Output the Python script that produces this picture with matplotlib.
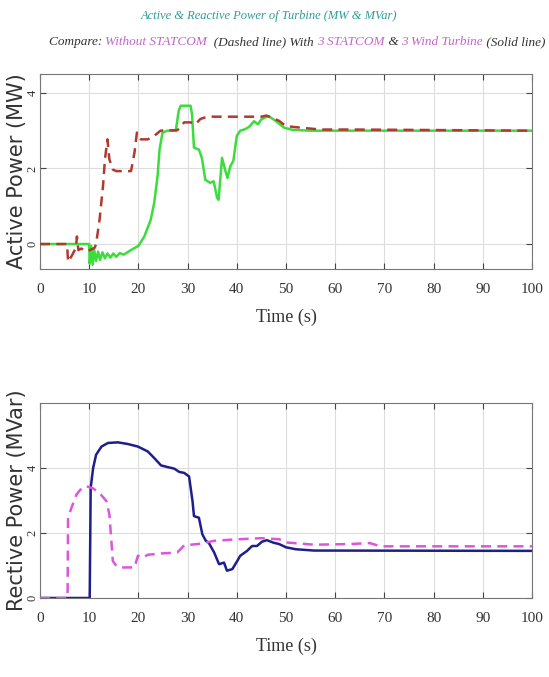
import matplotlib
matplotlib.use("Agg")
import matplotlib.pyplot as plt
from matplotlib.offsetbox import TextArea, HPacker, AnchoredOffsetbox

plt.rcParams["font.family"] = "Liberation Serif"

# Active power, with 3 STATCOM & 3 wind turbine (solid)
t_p_solid = [0, 10.0, 10.1, 10.4, 10.7, 11.0, 11.4, 11.8, 12.2, 12.7, 13.2, 13.7,
             14.3, 14.9, 15.5, 16.2, 17.0, 18.0, 19.0, 20.0, 21.2, 22.5, 23.2,
             23.9, 24.3, 24.9, 25.9, 27.6, 28.2, 28.6, 30.6, 30.9, 31.3, 32.3,
             32.9, 33.6, 34.6, 35.3, 36.0, 36.3, 37.0, 37.7, 38.1, 38.7, 39.3,
             40.0, 40.7, 41.7, 42.5, 43.5, 44.3, 45.0, 46.4, 47.9, 49.6, 51.4,
             55.0, 100]
p_solid = [0, 0, -0.52, -0.05, -0.55, -0.15, -0.45, -0.2, -0.42, -0.22, -0.38,
           -0.25, -0.36, -0.25, -0.34, -0.24, -0.28, -0.2, -0.12, -0.05, 0.2,
           0.64, 1.08, 1.8, 2.5, 2.95, 3.0, 3.0, 3.53, 3.66, 3.66, 3.44, 2.55,
           2.5, 2.28, 1.7, 1.62, 1.66, 1.22, 1.17, 2.28, 1.93, 1.75, 2.06, 2.2,
           2.86, 3.0, 3.04, 3.1, 3.25, 3.17, 3.3, 3.39, 3.26, 3.08, 3.02, 3.0,
           3.0]

# Active power, without STATCOM (dashed)
t_p_dash = [0, 5.5, 5.7, 6.5, 7.3, 7.5, 7.8, 8.4, 9.5, 11.1, 11.4, 12.1, 12.8,
            13.2, 13.7, 14.1, 14.8, 15.5, 18.5, 19.2, 19.7, 20.5, 21.9, 23.2,
            24.5, 25.9, 27.9, 29.3, 30.6, 31.6, 32.6, 34.0, 42.0, 45.0, 46.0,
            48.6, 50.0, 53.0, 57.0, 64.0, 100]
p_dash = [0, 0, -0.47, -0.3, -0.1, 0.2, -0.16, -0.12, -0.2, -0.1, 0.0, 0.64,
          1.53, 2.24, 2.77, 2.24, 1.97, 1.93, 1.93, 2.42, 2.95, 2.77, 2.77,
          2.86, 3.0, 3.01, 3.01, 3.22, 3.22, 3.17, 3.31, 3.37, 3.37, 3.37,
          3.4, 3.26, 3.12, 3.08, 3.03, 3.03, 3.0]

# Reactive power, with 3 STATCOM & 3 wind turbine (solid)
t_q_solid = [0, 10.1, 10.3, 10.8, 11.4, 12.5, 13.8, 15.8, 17.8, 19.9, 21.9,
             23.2, 24.6, 25.9, 27.3, 28.3, 29.3, 30.3, 31.0, 31.3, 32.3, 33.0,
             33.7, 34.3, 35.4, 36.4, 37.4, 38.0, 39.1, 40.1, 40.7, 42.1, 43.1,
             44.1, 45.1, 46.1, 47.5, 48.6, 50.0, 52.0, 55.7, 100]
q_solid = [0, 0, 3.39, 4.0, 4.41, 4.66, 4.77, 4.79, 4.74, 4.66, 4.51, 4.31,
           4.08, 4.03, 3.98, 3.88, 3.85, 3.74, 2.98, 2.52, 2.47, 1.96, 1.76,
           1.7, 1.4, 1.04, 1.09, 0.84, 0.89, 1.14, 1.3, 1.45, 1.6, 1.6, 1.73,
           1.78, 1.7, 1.66, 1.56, 1.5, 1.46, 1.45]

# Reactive power, without STATCOM (dashed)
t_q_dash = [0, 5.6, 5.7, 6.4, 7.4, 8.4, 9.4, 10.8, 12.1, 13.5, 14.1, 14.5,
            14.8, 15.5, 16.5, 19.2, 19.9, 20.9, 21.9, 24.6, 27.9, 29.3, 32.7,
            35.4, 39.4, 44.8, 48.6, 50.0, 55.7, 63.0, 67.0, 69.3, 100]
q_dash = [0, 0, 2.47, 2.78, 3.18, 3.37, 3.44, 3.37, 3.23, 2.98, 2.57, 1.76,
          1.14, 0.99, 0.94, 0.94, 1.3, 1.24, 1.33, 1.37, 1.4, 1.62, 1.67, 1.76,
          1.8, 1.84, 1.81, 1.71, 1.64, 1.66, 1.69, 1.59, 1.59]

x_ticks = [0, 10, 20, 30, 40, 50, 60, 70, 80, 90, 100]
y_ticks = [0, 2, 4]

fig = plt.figure(figsize=(5.49, 6.77), dpi=100)
ax1 = fig.add_axes([0.0729, 0.6027, 0.896, 0.288])
ax2 = fig.add_axes([0.0729, 0.1167, 0.896, 0.288])

ax1.plot(t_p_solid, p_solid, color="#3ddc3d", lw=1.8, zorder=2)
ax1.plot(t_p_dash, p_dash, color="#b03a30", lw=1.8, dashes=(4, 2.5), zorder=3)
ax1.set_ylim(-0.66, 4.5)

ax2.plot(t_q_solid, q_solid, color="#1f1f8c", lw=1.8, zorder=2)
ax2.plot(t_q_dash, q_dash, color="#dd55dd", lw=1.8, dashes=(4, 2.5), zorder=3)
ax2.set_ylim(0, 6)

for ax, lab in [(ax1, "Active Power (MW)"), (ax2, "Rective Power (MVar)")]:
    ax.set_xlim(0, 100)
    ax.set_xticks(x_ticks)
    ax.set_yticks(y_ticks)
    ax.set_yticklabels([str(v) for v in y_ticks], rotation=90, va="center")
    ax.grid(True, color="#dddddd", lw=0.8)
    ax.set_axisbelow(True)
    ax.tick_params(direction="in", top=True, right=True, length=4,
                   color="#444444", labelcolor="#333333")
    ax.tick_params(axis="y", pad=1, labelsize=9)
    ax.tick_params(axis="x", pad=10, labelsize=11)
    for s in ax.spines.values():
        s.set_color("#777777")
        s.set_linewidth(0.8)
    ax.set_xlabel("Time (s)", fontsize=13, color="#333333", labelpad=9)
    ax.set_ylabel(lab, fontsize=15, family="DejaVu Sans", color="#333333",
                  va="center")
    ax.yaxis.set_label_coords(-0.046, 0.5)

# two-line title, second line with coloured parts
fig.text(0.49, 0.977, "Active & Reactive Power of Turbine (MW & MVar)",
         ha="center", va="center", fontsize=9, style="italic", color="#2e9c9c")

violet = "#c266c8"
dark = "#333333"
parts = [("Compare: ", dark), ("Without STATCOM", violet),
         ("  (Dashed line) With ", dark), ("3 STATCOM", violet),
         (" & ", dark), ("3 Wind Turbine", violet), (" (Solid line)", dark)]
boxes = [TextArea(txt, textprops=dict(color=c, fontsize=9.5, style="italic"))
         for txt, c in parts]
row = HPacker(children=boxes, align="baseline", pad=0, sep=0)
anchored = AnchoredOffsetbox(loc="center", child=row, frameon=False,
                             bbox_to_anchor=(0.541, 0.938),
                             bbox_transform=fig.transFigure, pad=0, borderpad=0)
fig.add_artist(anchored)

fig.savefig("out.png", dpi=100)
